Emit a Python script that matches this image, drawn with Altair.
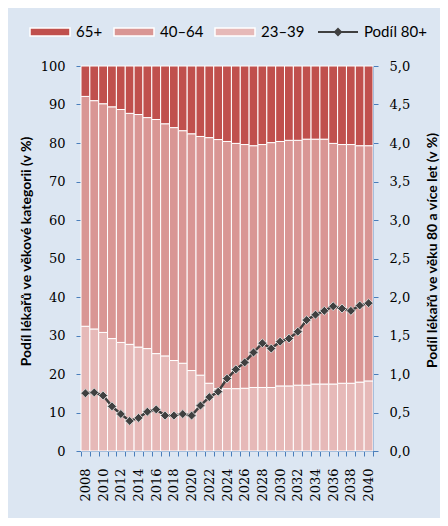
import altair as alt
import pandas as pd

years = list(range(2008, 2041))
share_23_39 = [32.4, 31.7, 30.8, 29.2, 28.2, 27.7, 27.0, 26.6, 25.3, 24.7, 23.5,
               22.8, 20.9, 19.7, 17.6, 16.2, 16.2, 16.2, 16.3, 16.5, 16.5, 16.5,
               16.9, 16.9, 17.1, 17.1, 17.4, 17.4, 17.4, 17.6, 17.6, 17.9, 18.2]
share_40_64 = [59.7, 59.3, 59.4, 60.2, 60.5, 60.0, 60.4, 60.0, 60.8, 60.3, 60.5,
               60.4, 61.5, 62.0, 63.8, 64.7, 64.2, 63.7, 63.3, 62.8, 63.1, 63.6,
               63.5, 63.8, 63.6, 63.9, 63.6, 63.6, 62.5, 62.0, 62.0, 61.4, 61.1]
share_65 = [7.9, 9.0, 9.8, 10.6, 11.3, 12.3, 12.6, 13.4, 13.9, 15.0, 16.0,
            16.8, 17.6, 18.3, 18.6, 19.1, 19.6, 20.1, 20.4, 20.7, 20.4, 19.9,
            19.6, 19.3, 19.3, 19.0, 19.0, 19.0, 20.1, 20.4, 20.4, 20.7, 20.7]
share_80 = [0.75, 0.76, 0.72, 0.58, 0.48, 0.39, 0.43, 0.51, 0.54, 0.46, 0.46,
            0.48, 0.46, 0.59, 0.70, 0.77, 0.94, 1.06, 1.15, 1.28, 1.40, 1.33,
            1.42, 1.46, 1.55, 1.70, 1.77, 1.82, 1.88, 1.85, 1.82, 1.89, 1.92]

categories = ["65+", "40–64", "23–39"]
cat_colors = ["#c0504d", "#d99694", "#e6b9b8"]
line_name = "Podíl 80+"
left_title = "Podíl lékařů ve věkové kategorii (v %)"
right_title = "Podíl lékařů ve věku 80 a více let (v %)"
left_ticks = list(range(0, 101, 10))
right_ticks = [i / 2 for i in range(0, 11)]

rows = []
for i, yr in enumerate(years):
    for cat, vals, rank in [("23–39", share_23_39, 0), ("40–64", share_40_64, 1), ("65+", share_65, 2)]:
        rows.append({"year": yr, "cat": cat, "share": vals[i], "rank": rank})
bars_df = pd.DataFrame(rows)
line_df = pd.DataFrame({"year": years, "v": share_80, "series": [line_name] * len(years)})

BLUE = "#4a7ebb"
BG = "#dce6f2"
SANS = "Lato"
SERIF = "DejaVu Serif"

x_values = [y - 0.5 for y in years] + [years[-1] + 0.5] + years
x_scale = alt.Scale(domain=[years[0] - 0.5, years[-1] + 0.5], nice=False, zero=False)
x_axis = alt.Axis(
    values=x_values,
    labelExpr="(datum.value % 2 == 0) ? format(datum.value, 'd') : ''",
    labelAngle=270, labelAlign="right", labelBaseline="middle",
    labelFont=SERIF, labelFontSize=13, labelColor="black", labelPadding=12,
    labelOverlap=False, labelFlush=False, labelBound=False,
    tickSize=5, tickColor=BLUE, domainColor=BLUE, grid=False,
    tickOpacity={"condition": {"test": "datum.value % 1 == 0", "value": 0}, "value": 1},
    title=None,
)
left_axis = alt.Axis(
    values=left_ticks, orient="left", grid=False,
    labelFont=SERIF, labelFontSize=13, labelColor="black", labelPadding=11,
    tickSize=5, tickColor=BLUE, domainColor=BLUE,
    title=left_title, titleFont=SANS, titleFontSize=14, titleFontWeight="bold",
    titleColor="black", titleAngle=270, titleX=-55, titleY=185,
    titleAlign="center", titleBaseline="middle",
)
right_axis = alt.Axis(
    values=right_ticks, orient="right", grid=False,
    labelExpr="replace(format(datum.value, '.1f'), '.', ',')",
    labelFont=SERIF, labelFontSize=13, labelColor="black", labelPadding=11,
    tickSize=5, tickColor=BLUE, domainColor=BLUE,
    title=right_title, titleFont=SANS, titleFontSize=14, titleFontWeight="bold",
    titleColor="black", titleAngle=270, titleX=59, titleY=184,
    titleAlign="center", titleBaseline="middle",
)

bars = alt.Chart(bars_df).transform_stack(
    stack="share", as_=["s0", "s1"], groupby=["year"], sort=[alt.SortField("rank", order="ascending")]
).transform_calculate(
    x0="datum.year - 0.5", x1="datum.year + 0.5"
).mark_rect(stroke="white", strokeWidth=1).encode(
    x=alt.X("x0:Q", scale=x_scale, axis=x_axis),
    x2="x1:Q",
    y=alt.Y("s0:Q", scale=alt.Scale(domain=[0, 100], nice=False), axis=left_axis),
    y2="s1:Q",
    color=alt.Color("cat:N", scale=alt.Scale(domain=categories, range=cat_colors),
                    legend=alt.Legend(orient="none", legendX=-52, legendY=-55, direction="horizontal",
                                      title=None, symbolType="M-1,-0.2H1V0.2H-1Z", symbolSize=1600,
                                      labelFont=SANS, labelFontSize=15, labelColor="black",
                                      labelOffset=5, columnPadding=8, padding=0)),
)

y_right = alt.Y("v:Q", scale=alt.Scale(domain=[0, 5], nice=False), axis=right_axis)
line = alt.Chart(line_df).mark_line(strokeWidth=2.5, color="#404040").encode(
    x=alt.X("year:Q", scale=x_scale, axis=x_axis),
    y=y_right,
    stroke=alt.Stroke("series:N", scale=alt.Scale(domain=[line_name], range=["#404040"]),
                      legend=alt.Legend(orient="none", legendX=236, legendY=-55, title=None,
                                        symbolType="M-1,0H1M0,-0.15L0.15,0L0,0.15L-0.15,0Z",
                                        symbolSize=1600, symbolStrokeWidth=2,
                                        labelFont=SANS, labelFontSize=15, labelColor="black",
                                        labelOffset=5, padding=0)),
)
points = alt.Chart(line_df).mark_point(shape="diamond", filled=True, size=81, fill="#404040",
                                       stroke="#d4d4d4", strokeWidth=1, opacity=1).encode(
    x=alt.X("year:Q", scale=x_scale, axis=x_axis),
    y=y_right,
)

chart = alt.layer(bars, alt.layer(line, points)).resolve_scale(
    y="independent", color="independent"
).properties(
    width=292, height=385,
    padding={"left": 73, "top": 58, "right": 67, "bottom": 67},
    autosize=alt.AutoSizeParams(type="none"),
).configure(background=BG).configure_view(stroke=None)

chart.save("out.html", embed_options={"renderer": "svg", "actions": False})
